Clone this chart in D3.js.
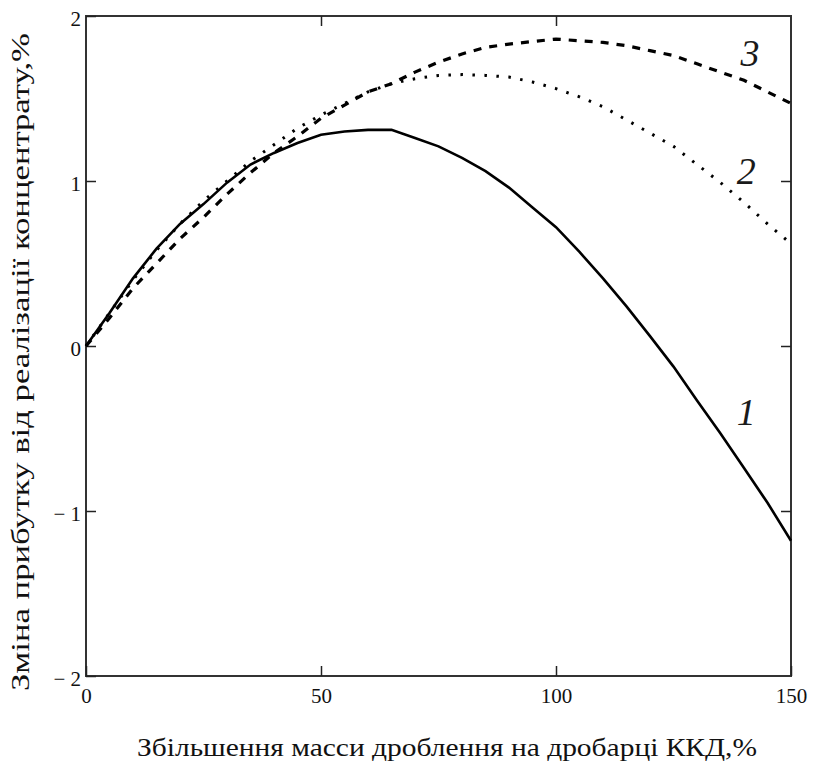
<!DOCTYPE html>
<html><head><meta charset="utf-8">
<script src="https://cdn.jsdelivr.net/npm/d3@7"></script>
<style>
html,body{margin:0;padding:0;background:#fff;}
svg{display:block;}
</style></head>
<body>
<svg id="chart" width="817" height="764"></svg>
<script>
// ---- data ----
const xValues = [0,5,10,15,20,25,30,35,40,45,50,55,60,65,70,75,80,85,90,95,100,105,110,115,120,125,130,135,140,145,150];
const series1 = [0,0.20,0.41,0.59,0.74,0.86,0.99,1.10,1.17,1.23,1.28,1.30,1.31,1.31,1.26,1.21,1.14,1.06,0.96,0.84,0.72,0.57,0.41,0.24,0.06,-0.125,-0.33,-0.53,-0.74,-0.95,-1.18];
const series2 = [0,0.20,0.40,0.58,0.74,0.88,1.00,1.12,1.22,1.32,1.40,1.47,1.54,1.59,1.62,1.64,1.645,1.64,1.63,1.60,1.56,1.51,1.45,1.37,1.29,1.21,1.10,0.99,0.87,0.74,0.62];
const series3 = [0,0.17,0.35,0.50,0.65,0.78,0.92,1.05,1.17,1.27,1.38,1.46,1.54,1.59,1.66,1.72,1.77,1.81,1.83,1.845,1.86,1.85,1.84,1.82,1.79,1.76,1.71,1.66,1.61,1.54,1.47];
const curveLabels = ["1","2","3"];
const xTicks = [0,50,100,150];
const yTicks = [-2,-1,0,1,2];
const xTitle = "Збільшення масси дроблення на дробарці ККД,%";
const yTitle = "Зміна прибутку від реалізації концентрату,%";

const svg = d3.select("#chart");
const L = 86, R = 791, T = 16, B = 676;
const x = d3.scaleLinear().domain([0,150]).range([L,R]);
const y = d3.scaleLinear().domain([-2,2]).range([B,T]);
const font = "'Times New Roman', 'Liberation Serif', Tinos, 'Nimbus Roman', FreeSerif, 'DejaVu Serif', serif";

// frame
svg.append("rect").attr("x",L).attr("y",T).attr("width",R-L).attr("height",B-T)
  .attr("fill","none").attr("stroke","#333").attr("stroke-width",2);

function styleAxis(g){
  g.select(".domain").remove();
  g.attr("font-family",null).attr("font-size",null);
  g.selectAll(".tick line").attr("stroke","#222").attr("stroke-width",1.5);
  g.selectAll(".tick text").style("font-family",font).style("font-size","21px").attr("fill","#111");
}
const yFmt = d => d < 0 ? "\u2212 " + Math.abs(d) : String(d);
svg.append("g").attr("transform",`translate(${L},0)`)
  .call(d3.axisLeft(y).tickValues(yTicks).tickFormat(yFmt).tickSizeInner(-10).tickSizeOuter(0).tickPadding(5))
  .call(styleAxis).selectAll(".tick text").attr("dy","0.45em");
svg.append("g").attr("transform",`translate(${R},0)`)
  .call(d3.axisRight(y).tickValues([-1,0,1]).tickFormat("").tickSizeInner(-10).tickSizeOuter(0))
  .call(styleAxis);
svg.append("g").attr("transform",`translate(0,${B})`)
  .call(d3.axisBottom(x).tickValues(xTicks).tickFormat(d3.format("d")).tickSizeInner(-10).tickSizeOuter(0).tickPadding(12))
  .call(styleAxis);
svg.append("g").attr("transform",`translate(0,${T})`)
  .call(d3.axisTop(x).tickValues([50,100]).tickFormat("").tickSizeInner(-10).tickSizeOuter(0))
  .call(styleAxis);

// lines
const line = d3.line().x((d,i)=>x(xValues[i])).y(d=>y(d));
const styles = [
  {data:series1, dash:null, w:2.6},
  {data:series2, dash:"2.5,9.5", w:3},
  {data:series3, dash:"8,8", w:3.2}
];
styles.forEach(s=>{
  svg.append("path").datum(s.data).attr("d",line)
    .attr("fill","none").attr("stroke","#000").attr("stroke-width",s.w)
    .attr("stroke-dasharray",s.dash);
});

// curve labels
const labelPos = [{xv:140.5,yv:-0.48},{xv:140.5,yv:0.98},{xv:141.3,yv:1.70}];
labelPos.forEach((p,i)=>{
  svg.append("text").attr("x",x(p.xv)).attr("y",y(p.yv))
    .style("font-family",font).style("font-style","italic").style("font-size","38px")
    .attr("fill","#1a1a1a").attr("text-anchor","middle").text(curveLabels[i]);
});

// titles
svg.append("text").attr("x",447).attr("y",756).attr("text-anchor","middle")
  .style("font-family",font).style("font-size","25px").attr("fill","#111")
  .attr("textLength",620).attr("lengthAdjust","spacingAndGlyphs").text(xTitle);
svg.append("text").attr("transform","translate(29,362) rotate(-90)").attr("text-anchor","middle")
  .style("font-family",font).style("font-size","25px").attr("fill","#111")
  .attr("textLength",658).attr("lengthAdjust","spacingAndGlyphs").text(yTitle);
</script>
</body></html>
